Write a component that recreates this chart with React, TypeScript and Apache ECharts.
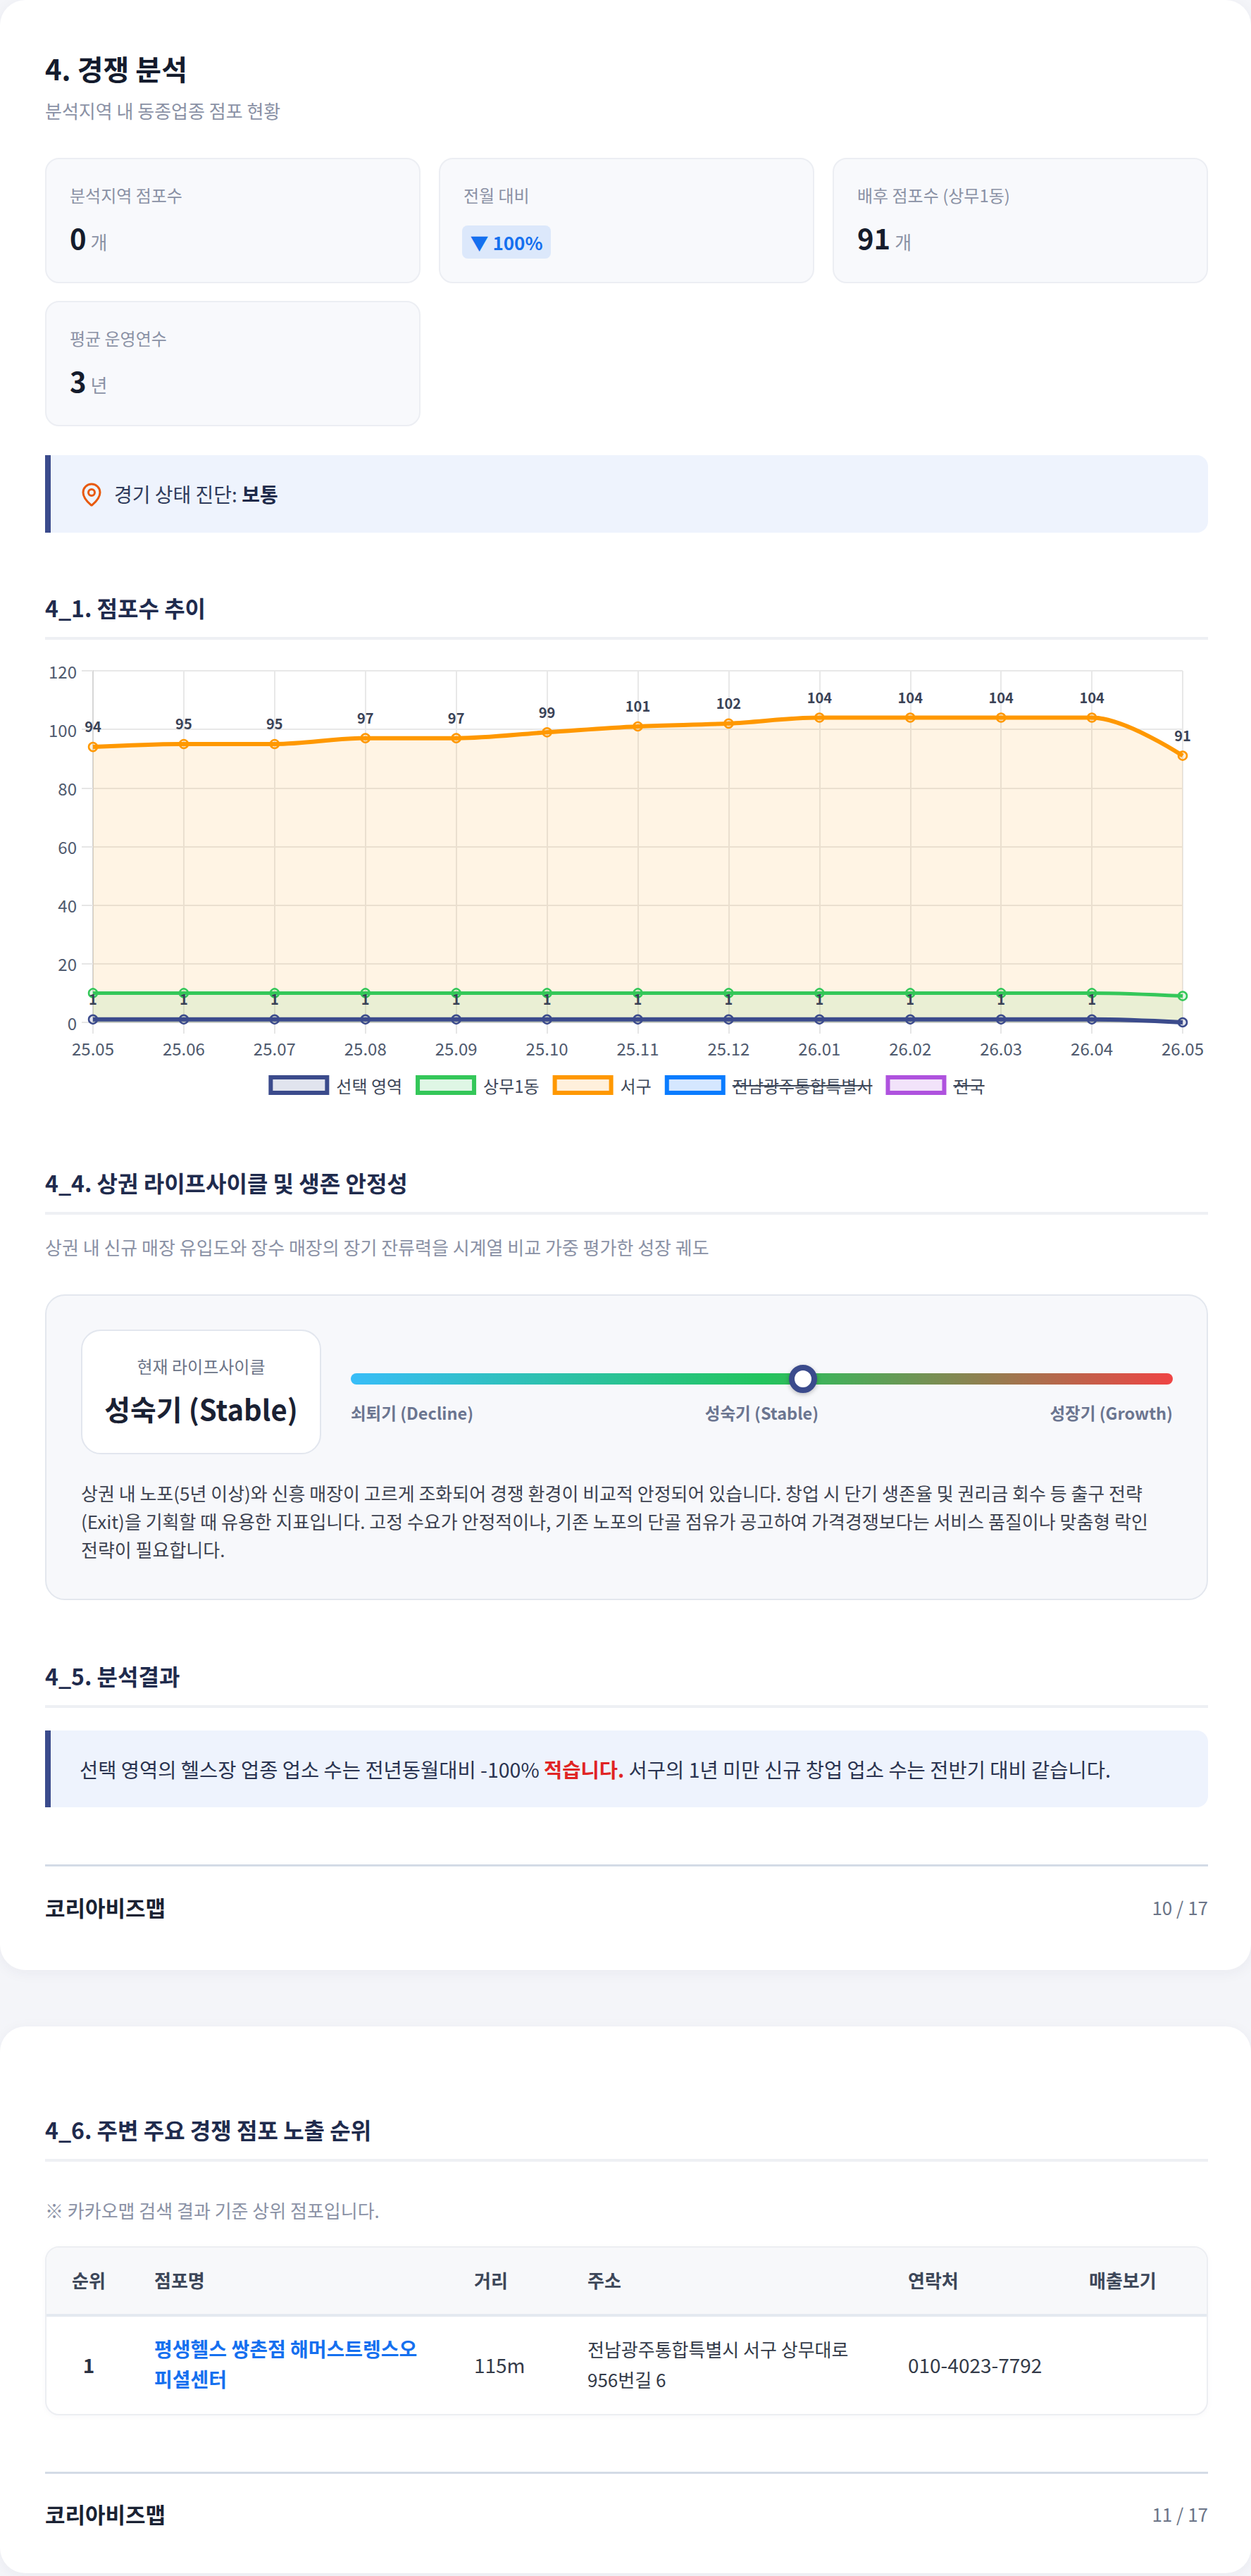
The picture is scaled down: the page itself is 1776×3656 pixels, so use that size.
import React, { useEffect, useRef } from "react";
import * as echarts from "echarts";

const FONT = "'Noto Sans CJK KR', 'Noto Sans', sans-serif";

// ---- chart data ----
const months = ["25.05", "25.06", "25.07", "25.08", "25.09", "25.10", "25.11", "25.12", "26.01", "26.02", "26.03", "26.04", "26.05"];
const selectedArea = [1, 1, 1, 1, 1, 1, 1, 1, 1, 1, 1, 1, 0];
const sangmu1 = [10, 10, 10, 10, 10, 10, 10, 10, 10, 10, 10, 10, 9];
const seogu = [94, 95, 95, 97, 97, 99, 101, 102, 104, 104, 104, 104, 91];
const yMin = 0;
const yMax = 120;
const yStep = 20;

const legendNames = ["선택 영역", "상무1동", "서구", "전남광주통합특별시", "전국"];
const legendHidden = [false, false, false, true, true];
const legendStroke = ["#3b4b8c", "#34c759", "#ff9800", "#0a7cff", "#af52de"];
const legendFill = ["#e1e4ee", "#dff6e5", "#fff0dc", "#d5e7ff", "#f2e3fa"];

// ---- KPI data ----
const kpiLabels = ["분석지역 점포수", "전월 대비", "배후 점포수 (상무1동)", "평균 운영연수"];
const kpiValues = ["0", "▼ 100%", "91", "3"];
const kpiUnits = ["개", "", "개", "년"];

// ---- lifecycle ----
const stageLabels = ["쇠퇴기 (Decline)", "성숙기 (Stable)", "성장기 (Growth)"];
const currentStage = "성숙기 (Stable)";
const stagePosition = 0.55;
const lifecycleText = [
  "상권 내 노포(5년 이상)와 신흥 매장이 고르게 조화되어 경쟁 환경이 비교적 안정되어 있습니다. 창업 시 단기 생존율 및 권리금 회수 등 출구 전략",
  "(Exit)을 기획할 때 유용한 지표입니다. 고정 수요가 안정적이나, 기존 노포의 단골 점유가 공고하여 가격경쟁보다는 서비스 품질이나 맞춤형 락인",
  "전략이 필요합니다.",
];

// ---- table ----
const tableHeaders = ["순위", "점포명", "거리", "주소", "연락처", "매출보기"];
const rowRank = "1";
const rowName = ["평생헬스 쌍촌점 해머스트렝스오", "피셜센터"];
const rowDistance = "115m";
const rowAddress = ["전남광주통합특별시 서구 상무대로", "956번길 6"];
const rowPhone = "010-4023-7792";

function Txt(props: any) {
  const { x, cy, size, weight = 400, color, right, center, children } = props;
  const lh = Math.round(size * 1.5);
  const st: any = {
    position: "absolute",
    top: cy - lh / 2,
    height: lh,
    lineHeight: lh + "px",
    fontSize: size,
    fontWeight: weight,
    color,
    whiteSpace: "nowrap",
  };
  if (right !== undefined) {
    st.right = right;
    st.textAlign = "right";
  } else if (center !== undefined) {
    st.left = center - 500;
    st.width = 1000;
    st.textAlign = "center";
  } else st.left = x;
  return <div style={st}>{children}</div>;
}

function SectionTitle({ cy, text }: { cy: number; text: string }) {
  return (
    <>
      <Txt x={64} cy={cy} size={32} weight={700} color="#1f2b4d">
        {text}
      </Txt>
      <div style={{ position: "absolute", left: 64, width: 1651, top: cy + 42, height: 4, background: "#eef0f4" }} />
    </>
  );
}

function Footer({ lineTop, cy, page }: { lineTop: number; cy: number; page: string }) {
  return (
    <>
      <div style={{ position: "absolute", left: 64, width: 1651, top: lineTop, height: 3, background: "#d3dbe6" }} />
      <Txt x={64} cy={cy} size={31} weight={700} color="#1a2233">
        코리아비즈맵
      </Txt>
      <Txt right={61} cy={cy} size={26} color="#6b7487">
        {page}
      </Txt>
    </>
  );
}

function TrendChart() {
  const ref = useRef<HTMLDivElement>(null);
  useEffect(() => {
    const el = ref.current!;
    const chart = echarts.init(el, null, { renderer: "svg" });
    const W = 1651;
    const LEGEND_FS = 24;
    const ctx = document.createElement("canvas").getContext("2d")!;
    ctx.font = `${LEGEND_FS}px ${FONT}`;
    const widths = legendNames.map((n) => ctx.measureText(n).width);
    const BOX = 86;
    const GAP_T = 10;
    const GAP_I = 19;
    const total = widths.reduce((s, w) => s + BOX + GAP_T + w, 0) + GAP_I * (legendNames.length - 1);
    let cur = (W - total) / 2;
    const cy = 610;
    const els: any[] = [];
    legendNames.forEach((n, i) => {
      els.push({
        type: "rect",
        shape: { x: cur + 3, y: cy - 11, width: 80, height: 22 },
        style: { fill: legendFill[i], stroke: legendStroke[i], lineWidth: 6 },
      });
      const tx = cur + BOX + GAP_T;
      els.push({
        type: "text",
        x: tx,
        y: cy,
        style: { text: n, fontSize: LEGEND_FS, fontFamily: FONT, fill: "#3d4759", verticalAlign: "middle", align: "left" },
      });
      if (legendHidden[i]) {
        els.push({
          type: "line",
          shape: { x1: tx, y1: cy + 1, x2: tx + widths[i], y2: cy + 1 },
          style: { stroke: "#3d4759", lineWidth: 2 },
        });
      }
      cur = tx + widths[i] + GAP_I;
    });

    const labelStyle = {
      show: true,
      position: "top",
      distance: 12,
      fontSize: 20,
      fontWeight: "bold",
      color: "#3a4256",
      fontFamily: FONT,
    };

    chart.setOption({
      animation: false,
      textStyle: { fontFamily: FONT },
      grid: { left: 68, right: 36, top: 22, bottom: 119 },
      xAxis: {
        type: "category",
        data: months,
        boundaryGap: false,
        axisLine: { show: true, lineStyle: { color: "#d6d6d6", width: 2 } },
        axisTick: { show: true, length: 16, lineStyle: { color: "#e6e6e6", width: 2 } },
        axisLabel: { fontSize: 24, color: "#4f5a6e", margin: 24 },
        splitLine: { show: true, lineStyle: { color: "#e8e8e8", width: 2 } },
      },
      yAxis: {
        type: "value",
        min: yMin,
        max: yMax,
        interval: yStep,
        axisLine: { show: true, lineStyle: { color: "#d6d6d6", width: 2 } },
        axisTick: { show: true, length: 16, lineStyle: { color: "#e6e6e6", width: 2 } },
        axisLabel: { fontSize: 24, color: "#4f5a6e", margin: 23 },
        splitLine: { show: true, lineStyle: { color: "#e8e8e8", width: 2 } },
      },
      series: [
        {
          name: "서구",
          type: "line",
          data: seogu,
          smooth: 0.35,
          symbol: "circle",
          symbolSize: 12,
          showAllSymbol: true,
          lineStyle: { color: "#ff9800", width: 6 },
          itemStyle: { color: "rgba(255,152,0,0.15)", borderColor: "#ff9800", borderWidth: 2.5 },
          areaStyle: { color: "rgba(255,152,0,0.15)" },
          label: labelStyle,
          emphasis: { disabled: true },
        },
        {
          name: "상무1동",
          type: "line",
          data: sangmu1,
          smooth: 0.35,
          symbol: "circle",
          symbolSize: 12,
          showAllSymbol: true,
          lineStyle: { color: "#34c759", width: 5 },
          itemStyle: { color: "rgba(52,199,89,0.15)", borderColor: "#34c759", borderWidth: 2.5 },
          areaStyle: { color: "rgba(52,199,89,0.15)" },
          emphasis: { disabled: true },
        },
        {
          name: "선택 영역",
          type: "line",
          data: selectedArea,
          smooth: 0.35,
          symbol: "circle",
          symbolSize: 12,
          showAllSymbol: true,
          lineStyle: { color: "#3b4b8c", width: 6 },
          itemStyle: { color: "rgba(59,75,140,0.15)", borderColor: "#3b4b8c", borderWidth: 2.5 },
          areaStyle: { color: "rgba(59,75,140,0.15)" },
          label: { ...labelStyle, formatter: (p: any) => (p.value > 0 ? String(p.value) : "") },
          emphasis: { disabled: true },
        },
      ],
      graphic: els,
    });
    return () => chart.dispose();
  }, []);
  return <div ref={ref} style={{ position: "absolute", left: 64, top: 930, width: 1651, height: 640 }} />;
}

function PinIcon() {
  return (
    <svg
      width={36}
      height={36}
      viewBox="0 0 24 24"
      style={{ position: "absolute", left: 112, top: 684 }}
      fill="none"
      stroke="#e8590c"
      strokeWidth={2}
      strokeLinecap="round"
      strokeLinejoin="round"
    >
      <path d="M20 10c0 4.993-5.539 10.193-7.399 11.799a1 1 0 0 1-1.202 0C9.539 20.193 4 14.993 4 10a8 8 0 0 1 16 0" />
      <circle cx="12" cy="10" r="3" />
    </svg>
  );
}

export default function App() {
  const colX = [64, 623, 1182];
  const rowTop = [224, 427];
  const cardW = 533;
  const cardH = 178;
  const barLeft = 498;
  const barW = 1167;
  const headerX = [null, 219, 673, 834, 1289, 1546];
  return (
    <div
      style={{
        position: "relative",
        width: 1776,
        height: 3656,
        background: "#f4f5f9",
        fontFamily: FONT,
        overflow: "hidden",
      }}
    >
      <style>{`body{margin:0;background:#f4f5f9}`}</style>
      {/* cards */}
      <div
        style={{
          position: "absolute",
          left: 0,
          top: 0,
          width: 1776,
          height: 2796,
          background: "#fff",
          borderRadius: 36,
          boxShadow: "0 4px 20px rgba(30,40,80,0.05)",
        }}
      />
      <div
        style={{
          position: "absolute",
          left: 0,
          top: 2876,
          width: 1776,
          height: 776,
          background: "#fff",
          borderRadius: 36,
          boxShadow: "0 4px 20px rgba(30,40,80,0.05)",
        }}
      />

      {/* header */}
      <Txt x={64} cy={97} size={40} weight={700} color="#141b2d">
        4. 경쟁 분석
      </Txt>
      <Txt x={64} cy={156} size={26} color="#8a91a5">
        분석지역 내 동종업종 점포 현황
      </Txt>

      {kpiLabels.map((label, i) => {
        const x = colX[i % 3];
        const top = rowTop[Math.floor(i / 3)];
        return (
          <React.Fragment key={label}>
            <div
              style={{
                position: "absolute",
                left: x,
                top,
                width: cardW,
                height: cardH,
                boxSizing: "border-box",
                background: "#f8f9fc",
                border: "2px solid #eceef3",
                borderRadius: 20,
              }}
            />
            <Txt x={x + 35} cy={top + 53} size={24} color="#8a91a5">
              {label}
            </Txt>
            {kpiUnits[i] === "" ? (
              <div
                style={{
                  position: "absolute",
                  left: x + 33,
                  top: top + 96,
                  width: 126,
                  height: 47,
                  borderRadius: 8,
                  background: "#dce8fb",
                  color: "#1570ef",
                  fontSize: 26,
                  fontWeight: 700,
                  lineHeight: "47px",
                  textAlign: "center",
                  whiteSpace: "nowrap",
                }}
              >
                {kpiValues[i]}
              </div>
            ) : (
              <div
                style={{
                  position: "absolute",
                  left: x + 35,
                  top: top + 113 - 30,
                  height: 60,
                  display: "flex",
                  alignItems: "baseline",
                  whiteSpace: "nowrap",
                }}
              >
                <span style={{ fontSize: 40, fontWeight: 700, color: "#151c2c", lineHeight: "60px" }}>{kpiValues[i]}</span>
                <span style={{ fontSize: 26, color: "#8a91a5", marginLeft: 6 }}>{kpiUnits[i]}</span>
              </div>
            )}
          </React.Fragment>
        );
      })}

      {/* diagnosis */}
      <div
        style={{
          position: "absolute",
          left: 64,
          top: 646,
          width: 1651,
          height: 110,
          boxSizing: "border-box",
          background: "#eef3fd",
          borderLeft: "8px solid #3b4b8c",
          borderRadius: "0 16px 16px 0",
        }}
      />
      <PinIcon />
      <Txt x={162} cy={701} size={28} color="#2f3b5c">
        경기 상태 진단: <b style={{ color: "#1e2a4a" }}>보통</b>
      </Txt>

      {/* 4_1 */}
      <SectionTitle cy={862} text="4_1. 점포수 추이" />
      <TrendChart />

      {/* 4_4 */}
      <SectionTitle cy={1678} text="4_4. 상권 라이프사이클 및 생존 안정성" />
      <Txt x={64} cy={1769} size={26} color="#8a91a5">
        상권 내 신규 매장 유입도와 장수 매장의 장기 잔류력을 시계열 비교 가중 평가한 성장 궤도
      </Txt>
      <div
        style={{
          position: "absolute",
          left: 64,
          top: 1837,
          width: 1651,
          height: 434,
          boxSizing: "border-box",
          background: "#f7f8fb",
          border: "2px solid #e3e7ee",
          borderRadius: 28,
        }}
      />
      <div
        style={{
          position: "absolute",
          left: 115,
          top: 1887,
          width: 341,
          height: 177,
          boxSizing: "border-box",
          background: "#fff",
          border: "2px solid #e2e6ee",
          borderRadius: 28,
        }}
      />
      <Txt center={285.5} cy={1939} size={24} color="#6b7487">
        현재 라이프사이클
      </Txt>
      <Txt center={285.5} cy={1999} size={40} weight={700} color="#1a2133">
        {currentStage}
      </Txt>
      <div
        style={{
          position: "absolute",
          left: barLeft,
          top: 1949,
          width: barW,
          height: 16,
          borderRadius: 8,
          background: "linear-gradient(90deg, #38bdf8 0%, #22c55e 50%, #ef4444 100%)",
        }}
      />
      <div
        style={{
          position: "absolute",
          left: barLeft + barW * stagePosition - 20,
          top: 1937,
          width: 40,
          height: 40,
          boxSizing: "border-box",
          borderRadius: "50%",
          background: "#fff",
          border: "8px solid #3b4b8c",
          boxShadow: "0 2px 6px rgba(0,0,0,0.25)",
        }}
      />
      <Txt x={barLeft} cy={2005} size={23.5} weight={700} color="#6b7590">
        {stageLabels[0]}
      </Txt>
      <Txt center={barLeft + barW / 2} cy={2005} size={23.5} weight={700} color="#6b7590">
        {stageLabels[1]}
      </Txt>
      <Txt right={1776 - (barLeft + barW)} cy={2005} size={23.5} weight={700} color="#6b7590">
        {stageLabels[2]}
      </Txt>
      {lifecycleText.map((line, i) => (
        <Txt key={i} x={115} cy={2118 + i * 40} size={26} color="#3d4250">
          {line}
        </Txt>
      ))}

      {/* 4_5 */}
      <SectionTitle cy={2378} text="4_5. 분석결과" />
      <div
        style={{
          position: "absolute",
          left: 64,
          top: 2456,
          width: 1651,
          height: 109,
          boxSizing: "border-box",
          background: "#eef3fd",
          borderLeft: "8px solid #3b4b8c",
          borderRadius: "0 16px 16px 0",
        }}
      />
      <Txt x={113} cy={2510} size={28.5} color="#2a3350">
        선택 영역의 헬스장 업종 업소 수는 전년동월대비 -100% <b style={{ color: "#e02424" }}>적습니다.</b> 서구의 1년 미만 신규 창업 업소 수는 전반기 대비 같습니다.
      </Txt>
      <Footer lineTop={2646} cy={2706} page="10 / 17" />

      {/* 4_6 */}
      <SectionTitle cy={3022} text="4_6. 주변 주요 경쟁 점포 노출 순위" />
      <Txt x={64} cy={3136} size={26} color="#8a91a5">
        ※ 카카오맵 검색 결과 기준 상위 점포입니다.
      </Txt>
      <div
        style={{
          position: "absolute",
          left: 64,
          top: 3188,
          width: 1651,
          height: 240,
          boxSizing: "border-box",
          background: "#fff",
          border: "2px solid #eceef2",
          borderRadius: 20,
          overflow: "hidden",
          boxShadow: "0 2px 8px rgba(30,40,80,0.03)",
        }}
      >
        <div style={{ height: 94, background: "#f7f8fa", borderBottom: "4px solid #e4e9f0" }} />
      </div>
      {tableHeaders.map((h, i) =>
        i === 0 ? (
          <Txt key={h} center={126} cy={3235} size={26} weight={700} color="#3d4759">
            {h}
          </Txt>
        ) : (
          <Txt key={h} x={headerX[i]} cy={3235} size={26} weight={700} color="#3d4759">
            {h}
          </Txt>
        )
      )}
      <Txt center={126} cy={3356} size={28} weight={700} color="#2a3142">
        {rowRank}
      </Txt>
      {rowName.map((l, i) => (
        <Txt key={l} x={219} cy={3333 + i * 43} size={28} weight={700} color="#1570ef">
          {l}
        </Txt>
      ))}
      <Txt x={673} cy={3356} size={28} color="#333a48">
        {rowDistance}
      </Txt>
      {rowAddress.map((l, i) => (
        <Txt key={l} x={834} cy={3333 + i * 43} size={26} color="#333a48">
          {l}
        </Txt>
      ))}
      <Txt x={1289} cy={3356} size={28} color="#333a48">
        {rowPhone}
      </Txt>
      <Footer lineTop={3508} cy={3567} page="11 / 17" />
    </div>
  );
}
